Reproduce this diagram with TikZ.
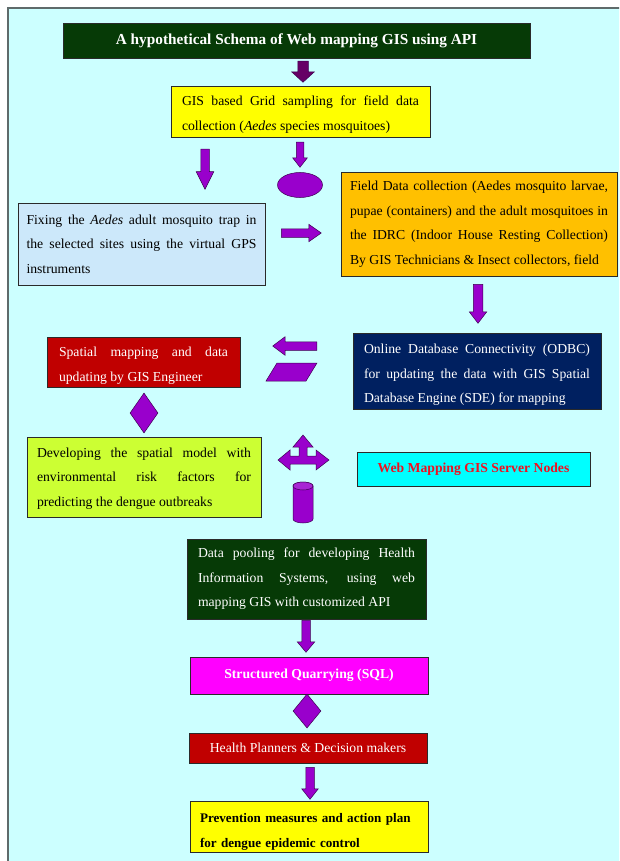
\documentclass[tikz,border=0pt]{standalone}
\usepackage{fontspec}
\setmainfont{Liberation Serif}
\usetikzlibrary{shapes.geometric,shapes.arrows}
\definecolor{bgcyan}{HTML}{CCFFFF}
\definecolor{framegray}{HTML}{5F6B6B}
\definecolor{darkgreen}{HTML}{063A06}
\definecolor{gisyellow}{HTML}{FFFF00}
\definecolor{gisorange}{HTML}{FFC000}
\definecolor{lightblue}{HTML}{CCE8FA}
\definecolor{gisred}{HTML}{C00000}
\definecolor{navybox}{HTML}{002060}
\definecolor{limebox}{HTML}{CCFF33}
\definecolor{aquabox}{HTML}{00FFFF}
\definecolor{magentabox}{HTML}{FF00FF}
\definecolor{arrowpurple}{HTML}{9900CC}
\definecolor{titlearrow}{HTML}{660066}
\definecolor{edgedark}{HTML}{2A2A2A}
\definecolor{arrowedge}{HTML}{3C0050}
\definecolor{webred}{HTML}{F01020}
\newcommand{\bodysize}{\fontsize{13.7}{24.5}\selectfont}
\newcommand{\labsize}{\fontsize{13.7}{24.5}\selectfont}
\newcommand{\tstrut}[1]{\rule{0pt}{#1}}
\begin{document}
\begin{tikzpicture}[x=1pt,y=-1pt,
  box/.style={draw=edgedark, line width=0.8pt, inner xsep=0pt, inner ysep=0pt, font=\bodysize},
  jtext/.style={align=justify},
  barrow/.style={shape=single arrow, fill=arrowpurple, draw=arrowedge, line width=0.5pt,
                 inner xsep=0pt, minimum width=0pt, anchor=tail},
  deco/.style={fill=arrowpurple, draw=arrowedge, line width=0.5pt},
]
\clip (0,0) rectangle (619,861);
\fill[white] (0,0) rectangle (619,861);
\draw[framegray, line width=2pt, fill=bgcyan] (8,8) rectangle (640,880);

% title
\node[box, fill=darkgreen, text=white, minimum width=467, minimum height=35,
      font=\fontsize{15.3}{18}\selectfont\bfseries] (title) at (296.5,40.5)
  {A hypothetical Schema of Web mapping GIS using API};
\node[barrow, fill=titlearrow, rotate=-90, minimum height=21, inner ysep=5pt,
      single arrow head extend=6, single arrow tip angle=95] (a0) at (303,61) {};

% grid sampling
\node[box, jtext, fill=gisyellow, minimum width=259, minimum height=51, text width=237] (grid) at (300.5,112)
  {\tstrut{14.5pt}GIS based Grid sampling for field data\linebreak collection (\textit{Aedes} species mosquitoes)};

\node[barrow, rotate=-90, minimum height=40, inner ysep=4pt,
      single arrow head extend=4.5, single arrow tip angle=53] (a1) at (205,149) {};
\node[barrow, rotate=-90, minimum height=25, inner ysep=3.5pt,
      single arrow head extend=3.5, single arrow tip angle=76] (a2) at (300,142) {};
\node[deco, shape=ellipse, minimum width=45, minimum height=25, inner sep=0pt] (oval) at (300,185) {};

% field data collection
\node[box, jtext, fill=gisorange, minimum width=276, minimum height=104, text width=258] (field) at (479,224)
  {Field Data collection (Aedes mosquito larvae,\linebreak pupae (containers) and the adult mosquitoes in\linebreak the IDRC (Indoor House Resting Collection)\linebreak By GIS Technicians \& Insect collectors, field};

% trap
\node[box, jtext, fill=lightblue, minimum width=247, minimum height=82, text width=230] (trap) at (141.5,244)
  {Fixing the \textit{Aedes} adult mosquito trap in\linebreak the selected sites using the virtual GPS\linebreak instruments};

\node[barrow, minimum height=40, inner ysep=4pt,
      single arrow head extend=4.5, single arrow tip angle=70] (a3) at (281,233) {};
\node[barrow, rotate=-90, minimum height=39, inner ysep=4.5pt,
      single arrow head extend=4, single arrow tip angle=75] (a4) at (478,284) {};

% ODBC
\node[box, jtext, fill=navybox, text=white, minimum width=248, minimum height=76, text width=226] (odbc) at (477,371)
  {\tstrut{17.5pt}Online Database Connectivity (ODBC)\linebreak for updating the data with GIS Spatial\linebreak Database Engine (SDE) for mapping};

% spatial mapping
\node[box, jtext, fill=gisred, text=white, minimum width=193, minimum height=50, text width=169] (spatial) at (143.5,362)
  {\tstrut{17pt}Spatial mapping and data\linebreak updating by GIS Engineer};

\node[barrow, rotate=180, minimum height=44, inner ysep=4pt,
      single arrow head extend=5, single arrow tip angle=74] (a5) at (317,346) {};
\draw[deco] (277,363) -- (317,363) -- (306,381) -- (266,381) -- cycle;

\node[deco, shape=diamond, minimum width=28, minimum height=40, inner sep=0pt] (dia1) at (144,413) {};

% spatial model
\node[box, jtext, fill=limebox, minimum width=234, minimum height=80, text width=214] (model) at (144,477)
  {\tstrut{12.5pt}Developing the spatial model with\linebreak environmental risk factors for\linebreak predicting the dengue outbreaks};

% three-way arrow
\draw[deco] (303,435) -- (313,447) -- (307,447) -- (307,456) -- (316,456) -- (316,450)
  -- (329,460) -- (316,470) -- (316,464) -- (290,464) -- (290,470) -- (278,460)
  -- (290,450) -- (290,456) -- (299,456) -- (299,447) -- (293,447) -- cycle;

% server nodes
\node[box, fill=aquabox, text=webred, minimum width=233, minimum height=34,
      font=\labsize\bfseries] (server) at (473.5,469) {Web Mapping GIS Server Nodes};

% cylinder
\coordinate (cyl) at (303,486);
\draw[deco] (293,486) -- (293,519) arc[start angle=180, end angle=0, x radius=10, y radius=4]
  -- (313,486) arc[start angle=0, end angle=-180, x radius=10, y radius=4] -- cycle;
\draw[deco, fill=arrowpurple!85!white] (cyl) ellipse [x radius=10, y radius=4];

% data pooling
\node[box, jtext, fill=darkgreen, text=white, minimum width=239, minimum height=80, text width=217] (pool) at (306.5,579)
  {Data pooling for developing Health\linebreak Information Systems, using web\linebreak mapping GIS with customized API};

\node[barrow, rotate=-90, minimum height=32, inner ysep=4pt,
      single arrow head extend=4.5, single arrow tip angle=80] (a6) at (306,620) {};

% SQL
\node[box, fill=magentabox, text=white, minimum width=238, minimum height=37,
      font=\labsize\bfseries] (sql) at (309,675.5) {Structured Quarrying (SQL)};

\node[deco, shape=diamond, minimum width=28, minimum height=34, inner sep=0pt] (dia2) at (307,711) {};

% planners
\node[box, fill=gisred, text=white, minimum width=238, minimum height=30,
      font=\labsize] (plan) at (308,748) {Health Planners \& Decision makers};

\node[barrow, rotate=-90, minimum height=32, inner ysep=4pt,
      single arrow head extend=4, single arrow tip angle=77] (a7) at (310,767) {};

% prevention
\node[box, fill=gisyellow, align=left, minimum width=238, minimum height=51, text width=218,
      font=\fontsize{13.1}{24.5}\selectfont\bfseries] (prev) at (309,826.5)
  {\tstrut{20pt}Prevention measures and action plan\\ for dengue epidemic control};
\end{tikzpicture}
\end{document}
